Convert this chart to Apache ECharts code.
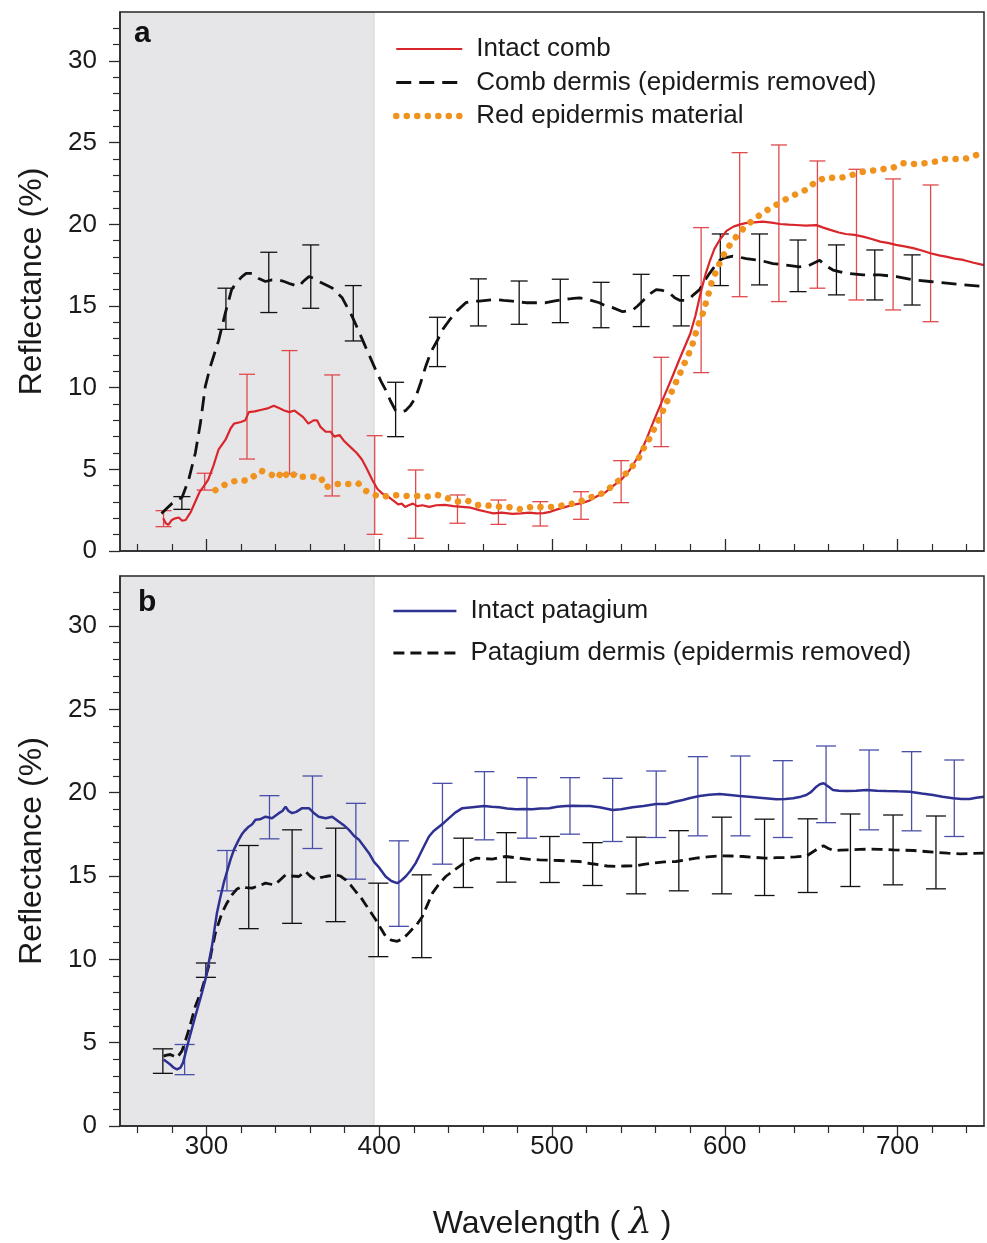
<!DOCTYPE html>
<html><head><meta charset="utf-8">
<script src="https://cdn.jsdelivr.net/npm/echarts@6/dist/echarts.min.js"></script>
<style>html,body{margin:0;padding:0;background:#fff}#c{width:987px;height:1243px}</style>
</head><body><div id="c"></div><script>
// ---------- tick labels ----------
const xMajorTicks = [300, 400, 500, 600, 700];
const xMinorTicks = [260, 280, 320, 340, 360, 380, 420, 440, 460, 480, 520, 540, 560, 580, 620, 640, 660, 680, 720, 740];
const yMajorTicks = [0, 5, 10, 15, 20, 25, 30];
const yMinorTicks = [1, 2, 3, 4, 6, 7, 8, 9, 11, 12, 13, 14, 16, 17, 18, 19, 21, 22, 23, 24, 26, 27, 28, 29, 31, 32];
const uvBand = [250, 397];

// ---------- panel a ----------
const intactComb = [[275,2.0],[276.5,1.7],[278,1.6],[280,1.9],[282,2.0],[284,2.05],[286,1.85],[288,1.9],[291,2.4],[293.5,3.0],[296,3.6],[298,3.9],[301,4.35],[304,5.2],[307,6.2],[311,6.8],[314,7.5],[316,7.8],[320,7.9],[322.5,8.0],[324.5,8.5],[328,8.55],[332,8.65],[336,8.75],[339,8.9],[342,8.75],[345,8.6],[348,8.5],[351,8.6],[353.5,8.4],[356,8.2],[359,7.8],[362,8.0],[364,8.0],[366,7.6],[369,7.3],[372,7.3],[374,7.0],[377,7.1],[380,6.7],[384,6.3],[387,6.0],[390,5.6],[393,5.0],[396,4.35],[399,3.8],[402,3.5],[405,3.35],[408,3.1],[411,2.85],[413,2.9],[415,2.7],[417,2.8],[419.5,2.9],[422,2.75],[425,2.8],[429,2.7],[433,2.8],[438,2.82],[443,2.75],[448,2.7],[453,2.65],[458,2.5],[462,2.4],[466,2.3],[471,2.35],[477,2.27],[482,2.3],[487,2.35],[491,2.3],[495,2.32],[499,2.4],[503,2.55],[508,2.7],[512,2.82],[518,2.95],[522,3.1],[526,3.35],[531,3.6],[535,3.95],[540,4.35],[545,4.96],[550,5.8],[554.5,6.8],[559,8.0],[564,9.25],[569,10.5],[574,11.8],[580,13.3],[583,14.4],[586,15.8],[589,17.0],[591.5,17.8],[594,18.5],[597,19.04],[601,19.6],[605,19.86],[609,20.0],[612,20.07],[617,20.12],[622,20.17],[627,20.1],[632,20.02],[637,19.98],[641,19.96],[647,19.92],[653,19.95],[657,19.8],[661,19.66],[666,19.5],[670,19.41],[675,19.35],[680,19.25],[685,19.1],[690,18.94],[695,18.85],[699,18.74],[704,18.65],[709,18.54],[714,18.4],[719,18.23],[724,18.1],[728,18.02],[733,17.9],[738,17.82],[744,17.65],[750,17.5]];
const intactCombErr = [[275.2,1.49,2.47],[299,3.73,4.76],[323.5,5.63,10.82],[348.1,4.72,12.27],[372.8,3.37,10.78],[397.4,1.02,7.06],[421.1,0.78,4.96],[445.3,1.70,3.43],[469,1.63,3.12],[493.2,1.53,3.02],[516.8,1.94,3.63],[540,2.96,5.53],[563.2,6.39,11.86],[586.3,10.92,19.80],[608.6,15.57,24.39],[631.3,15.27,24.86],[653.6,16.09,23.88],[676.2,15.37,23.37],[697.4,14.76,22.78],[719.1,14.04,22.41]];
const combDermis = [[274,2.3],[277,2.6],[280,2.9],[283,3.1],[286,3.3],[289.7,4.35],[293.6,6.0],[296.5,7.8],[299.4,10.1],[302.3,11.3],[305,12.2],[307.1,12.9],[311,14.6],[314.6,16.0],[317,16.4],[320.6,16.8],[323,17.0],[326.4,17.0],[330,16.7],[334.2,16.5],[338,16.6],[341.9,16.6],[345,16.5],[348.7,16.35],[353.5,16.2],[356,16.5],[359.3,16.8],[362,16.7],[365,16.5],[369,16.3],[372.8,16.1],[378.6,15.5],[384.4,14.35],[388,13.5],[392.1,12.5],[397.9,11.1],[401,10.4],[403.7,9.86],[406.5,9.2],[409.5,8.6],[412,8.5],[415.3,8.6],[418,8.9],[421.1,9.4],[424,10.3],[426.9,11.3],[430,12.2],[433.7,12.9],[437,13.6],[440.4,14.1],[445,14.7],[450.1,15.2],[454,15.3],[457.8,15.3],[462,15.35],[467.5,15.4],[472,15.35],[477.1,15.3],[484.9,15.2],[490,15.2],[496.5,15.2],[501,15.3],[506.1,15.4],[511,15.45],[515.8,15.5],[521,15.4],[527.4,15.2],[531,15.0],[535.1,14.9],[540.9,14.65],[546.7,14.75],[549.5,15.0],[552.5,15.3],[556,15.7],[560.3,16.0],[564,15.95],[568,15.8],[571,15.5],[573.8,15.35],[577,15.35],[579.6,15.45],[582,15.7],[585.4,16.0],[588,16.5],[591.2,17.0],[594,17.4],[597,17.8],[600,17.95],[604.7,18.05],[608,18.0],[612.4,17.9],[620.1,17.8],[627.9,17.6],[635.6,17.5],[643.3,17.4],[648,17.45],[651,17.6],[654.9,17.8],[658,17.5],[662.6,17.2],[670.4,17.0],[680,16.9],[689.7,16.9],[699.4,16.8],[709,16.6],[718.7,16.5],[728.4,16.4],[738,16.3],[750,16.2]];
const combDermisErr = [[285.8,2.55,3.33],[311.3,13.57,16.09],[336.1,14.6,18.29],[360.4,14.86,18.74],[385,12.86,16.25],[409.5,7.0,10.33],[433.7,11.29,14.31],[457.4,13.78,16.66],[481,13.88,16.53],[504.8,13.98,16.64],[528.4,13.67,16.45],[551.6,13.74,16.94],[574.8,13.78,16.86],[597.4,16.25,19.41],[620.1,16.29,19.41],[642.4,15.88,19.04],[664.6,15.68,18.74],[686.8,15.37,18.43],[708.4,15.06,18.13]];
const redEpidermis = [[305.2,3.73],[312,4.14],[318.7,4.35],[323.5,4.3],[328.4,4.65],[331.3,4.92],[335,4.8],[338,4.65],[340.9,4.45],[344.2,4.92],[347.7,4.45],[351.6,4.76],[355.4,4.55],[361.2,4.55],[366,4.55],[369,3.9],[375.7,4.1],[382.5,4.1],[387.9,4.14],[392.1,3.69],[397.5,3.43],[401.8,3.29],[406.6,3.43],[416.3,3.37],[422.1,3.37],[427.9,3.33],[433.7,3.43],[439.5,3.23],[445.3,3.02],[451.1,3.08],[456.8,2.82],[463.6,2.78],[469.4,2.71],[476.2,2.68],[482,2.55],[488.7,2.71],[495.5,2.68],[501.3,2.71],[508.1,2.82],[514.8,2.96],[520.6,3.23],[527.4,3.43],[533.2,3.84],[539,4.35],[544.8,4.96],[549.6,5.57],[553.1,6.29],[556.8,6.96],[559.9,7.65],[563.2,8.33],[566.1,9.04],[569,9.69],[571.9,10.37],[574.8,11.04],[577.7,11.74],[580.6,12.41],[582.5,13.08],[584.4,13.78],[587,14.45],[590.8,15.82],[592.5,16.49],[598,17.88],[601.8,18.57],[606.2,19.19],[611.4,19.82],[617.2,20.33],[623,20.78],[628.8,21.14],[635.2,21.53],[641.4,21.86],[647.8,22.15],[653,22.66],[659.3,22.88],[665.5,22.82],[671.9,22.96],[678.1,23.19],[684.5,23.27],[691,23.37],[697.4,23.47],[703.2,23.74],[709.4,23.7],[715.2,23.74],[721.6,23.84],[727.4,24.0],[733.8,24.0],[740,24.04],[750,24.4]];

// ---------- panel b ----------
const intactPatagium = [[275.2,3.99],[277,3.85],[279.1,3.69],[281,3.5],[283,3.40],[285,3.5],[286.5,3.8],[288,4.4],[289.9,5.19],[293.6,6.59],[297.4,7.99],[299.4,8.78],[301,9.6],[303.2,10.78],[306.1,12.78],[308,13.7],[310,14.57],[313.9,15.97],[316,16.6],[318.7,17.17],[320.5,17.5],[322,17.7],[324.5,17.96],[326.5,18.1],[328.4,18.37],[331,18.4],[334.2,18.56],[338,18.47],[341.9,18.77],[344,18.9],[345.8,19.16],[347.5,18.9],[349.6,18.77],[352,18.85],[355.4,19.07],[359.3,19.07],[362,18.8],[365,18.56],[369,18.47],[372.8,18.56],[376.7,18.26],[379.5,18.05],[382.5,17.77],[385.5,17.4],[388.3,17.17],[391,16.8],[394.1,16.37],[397,15.85],[400,15.5],[403.7,14.97],[407,14.7],[410.4,14.57],[413,14.75],[415.3,14.97],[418,15.3],[421.1,15.77],[423,16.17],[426,16.8],[428.8,17.37],[431.5,17.7],[434.6,17.96],[437.5,18.2],[440.4,18.47],[444,18.8],[448.1,19.07],[453.9,19.13],[460.7,19.2],[465,19.15],[469.4,19.13],[474,19.05],[479.1,19.0],[484,19.02],[488.7,19.0],[493,19.05],[498.4,19.07],[503,19.15],[508.1,19.2],[512,19.22],[517.7,19.2],[522,19.2],[527.4,19.13],[531,19.05],[535.1,18.96],[540,19.0],[546.7,19.13],[553,19.2],[560.3,19.32],[566.1,19.32],[571,19.45],[575.7,19.56],[580,19.68],[585.4,19.8],[591,19.88],[597,19.92],[603,19.86],[608.6,19.8],[614,19.76],[620.1,19.7],[625,19.65],[629.8,19.6],[635,19.62],[639.5,19.66],[644,19.76],[647.2,19.86],[650,20.05],[653,20.36],[655,20.5],[657.2,20.56],[659.5,20.4],[662.6,20.16],[666,20.12],[670.4,20.1],[676,20.12],[682,20.16],[688,20.12],[693.6,20.1],[700,20.08],[707,20.06],[714,19.95],[720.5,19.86],[726,19.76],[732.1,19.66],[737,19.62],[741.7,19.62],[745.5,19.7],[750,19.76]];
const intactPatagiumErr = [[287.4,3.08,4.89],[311.9,14.11,16.53],[336.5,17.23,19.82],[361.4,16.65,21.0],[386.5,14.81,19.36],[411.4,11.98,17.11],[436.6,15.71,20.56],[460.9,17.17,21.26],[485.5,17.27,20.9],[510.4,17.51,20.9],[535.1,17.07,20.86],[560.3,17.31,21.3],[584.4,17.41,22.16],[609.1,17.41,22.2],[633.6,17.31,21.92],[658.6,18.2,22.8],[683.5,17.77,22.56],[708.1,17.71,22.46],[732.8,17.37,21.96]];
const patagiumDermis = [[275.2,4.19],[277,4.25],[279.1,4.29],[281,4.2],[283,4.1],[285.8,4.49],[287.5,5.0],[289.9,5.79],[293.6,7.19],[297.4,8.19],[301.3,9.58],[303,10.5],[305.2,11.58],[309,12.78],[312,13.4],[314.8,13.87],[317.5,14.2],[320.6,14.37],[323,14.3],[326.4,14.27],[330,14.4],[334.2,14.57],[339,14.47],[342,14.7],[345.8,15.07],[349.5,15.0],[353.5,14.97],[357.4,15.27],[360,15.0],[363.2,14.77],[366,14.9],[369,14.97],[374.8,15.07],[377.5,15.0],[380.6,14.77],[383.5,14.45],[386.4,14.07],[389.5,13.7],[392.2,13.28],[395,12.85],[398,12.38],[401,11.85],[403.7,11.38],[407,11.15],[410.4,11.08],[413,11.2],[416.2,11.48],[419.2,11.82],[421.1,11.98],[425,12.57],[428,13.3],[430.8,13.97],[434.5,14.5],[438.5,14.97],[444,15.4],[449.1,15.77],[455.9,16.07],[460,16.05],[465.5,16.01],[469,16.1],[473.3,16.17],[481,16.07],[487,16.0],[492.6,15.97],[498,15.95],[504.2,15.93],[510,15.9],[515.8,15.87],[522,15.75],[527.4,15.67],[532,15.6],[537,15.57],[542,15.6],[548.6,15.61],[553,15.7],[558.3,15.77],[565,15.85],[571.8,15.87],[577,15.95],[583.4,16.07],[590,16.15],[598,16.21],[604,16.2],[610.6,16.17],[617,16.12],[623.2,16.07],[630,16.1],[635.8,16.11],[641,16.15],[647.4,16.21],[651.3,16.47],[654,16.65],[657.1,16.81],[660,16.65],[662.9,16.53],[667,16.55],[672.5,16.57],[678,16.6],[684.1,16.61],[690,16.6],[697.6,16.57],[703,16.55],[709.2,16.53],[716,16.47],[722.8,16.41],[729,16.37],[736.3,16.33],[743,16.35],[750,16.37]];
const patagiumDermisErr = [[274.8,3.16,4.63],[299.7,8.92,9.78],[324.5,11.84,16.83],[349.6,12.16,17.77],[374.8,12.26,17.87],[399.5,10.16,14.57],[424.6,10.1,15.07],[448.7,14.31,17.27],[473.6,14.63,17.6],[498.7,14.61,17.37],[523.5,14.43,17.0],[548.7,13.93,17.33],[573.4,14.11,17.72],[598.3,13.93,18.53],[623,13.83,18.41],[648,14.01,18.43],[672.7,14.37,18.72],[697.4,14.47,18.66],[722.2,14.23,18.6]];

// ---------- chart ----------
const FONT = 'Liberation Sans';
const AX = '#2b2b2b';
const RED = '#d9262b', RED_BAR = '#e04a4c', ORANGE = '#f0921e', BLUE = '#2e3192', BLUE_BAR = '#4a4fa8', BLACK = '#111111';

function xAxisPair(gridIndex, inside, withLabels) {
  const base = {type: 'value', gridIndex, min: 250, max: 750, position: 'bottom', splitLine: {show: false}};
  const major = Object.assign({}, base, {
    axisLine: {show: true, onZero: false, lineStyle: {color: AX, width: 1.5}},
    axisTick: {show: true, inside, length: 12, customValues: xMajorTicks, lineStyle: {color: AX, width: 1.3}},
    axisLabel: {show: withLabels, customValues: xMajorTicks, fontSize: 26, fontFamily: FONT, color: '#1a1a1a', margin: 8},
    z: 6
  });
  const minor = Object.assign({}, base, {
    axisLine: {show: false, onZero: false},
    axisTick: {show: true, inside, length: 7, customValues: xMinorTicks, lineStyle: {color: AX, width: 1.2}},
    axisLabel: {show: false},
    z: 6
  });
  return [major, minor];
}
function yAxisPair(gridIndex) {
  const base = {type: 'value', gridIndex, min: 0, max: 33, position: 'left', splitLine: {show: false}};
  const major = Object.assign({}, base, {
    name: 'Reflectance (%)', nameLocation: 'middle', nameGap: 72,
    nameTextStyle: {fontSize: 32, fontFamily: FONT, color: '#1a1a1a'},
    axisLine: {show: true, onZero: false, lineStyle: {color: AX, width: 1.5}},
    axisTick: {show: true, length: 11, customValues: yMajorTicks, lineStyle: {color: AX, width: 1.3}},
    axisLabel: {show: true, customValues: yMajorTicks, fontSize: 26, fontFamily: FONT, color: '#1a1a1a', margin: 23},
    z: 6
  });
  const minor = Object.assign({}, base, {
    axisLine: {show: false, onZero: false},
    axisTick: {show: true, length: 7, customValues: yMinorTicks, lineStyle: {color: AX, width: 1.2}},
    axisLabel: {show: false},
    z: 6
  });
  return [major, minor];
}

const xa = xAxisPair(0, true, false).concat(xAxisPair(1, false, true));
xa[2].name = '{t|Wavelength ( }{l|λ}{t| )}';
xa[2].nameLocation = 'middle';
xa[2].nameGap = 80;
xa[2].nameTextStyle = {rich: {
  t: {fontSize: 32, fontFamily: FONT, color: '#1a1a1a'},
  l: {fontSize: 36, fontFamily: 'DejaVu Serif', fontStyle: 'italic', color: '#1a1a1a'}
}};
const ya = yAxisPair(0).concat(yAxisPair(1));

function shade(xi, yi) {
  return {type: 'line', xAxisIndex: xi, yAxisIndex: yi, data: [], silent: true, z: 1,
    markArea: {silent: true, itemStyle: {color: '#e6e6e9', borderColor: '#d2d2d6', borderWidth: 1},
      data: [[{xAxis: uvBand[0]}, {xAxis: uvBand[1]}]]}};
}
function errBars(data, color, capW, xi, yi) {
  return {type: 'custom', xAxisIndex: xi, yAxisIndex: yi, data, z: 3, silent: true, clip: true,
    encode: {x: 0, y: [1, 2]},
    renderItem(params, api) {
      const x = api.value(0);
      const pLo = api.coord([x, api.value(1)]);
      const pHi = api.coord([x, api.value(2)]);
      const h = capW / 2;
      const st = {stroke: color, lineWidth: 1.3};
      return {type: 'group', children: [
        {type: 'line', shape: {x1: pLo[0], y1: pLo[1], x2: pHi[0], y2: pHi[1]}, style: st},
        {type: 'line', shape: {x1: pLo[0] - h, y1: pLo[1], x2: pLo[0] + h, y2: pLo[1]}, style: st},
        {type: 'line', shape: {x1: pHi[0] - h, y1: pHi[1], x2: pHi[0] + h, y2: pHi[1]}, style: st}
      ]};
    }};
}
function lineS(name, data, xi, yi, lineStyle, z) {
  return {name, type: 'line', xAxisIndex: xi, yAxisIndex: yi, data, symbol: 'none', showSymbol: false,
    clip: true, z: z || 4, lineStyle, itemStyle: {color: lineStyle.color}, emphasis: {disabled: true}};
}

const legendText = {fontSize: 26, fontFamily: FONT, color: '#1a1a1a', padding: [0, 0, 0, 9]};
const option = {
  animation: false,
  backgroundColor: '#ffffff',
  grid: [
    {left: 120, top: 12, width: 864, height: 539, show: true, borderColor: AX, borderWidth: 1.5, backgroundColor: 'transparent', z: 8},
    {left: 120, top: 576, width: 864, height: 551, show: true, borderColor: AX, borderWidth: 1.5, backgroundColor: 'transparent', z: 8}
  ],
  title: [
    {text: 'a', left: 134, top: 19, padding: 0, textStyle: {fontSize: 30, fontWeight: 'bold', fontFamily: FONT, color: '#111'}},
    {text: 'b', left: 138, top: 588, padding: 0, textStyle: {fontSize: 30, fontWeight: 'bold', fontFamily: FONT, color: '#111'}}
  ],
  legend: [
    {data: ['Intact comb', 'Comb dermis (epidermis removed)', 'Red epidermis material'],
     orient: 'vertical', left: 393, top: 36, itemWidth: 66, itemHeight: 14, itemGap: 7.5, padding: 0,
     selectedMode: false, textStyle: legendText, lineStyle: {width: 'inherit'}, itemStyle: {opacity: 0}},
    {data: ['Intact patagium', 'Patagium dermis (epidermis removed)'],
     orient: 'vertical', left: 392, top: 598, itemWidth: 63, itemHeight: 14, itemGap: 16, padding: 0,
     selectedMode: false, textStyle: legendText, lineStyle: {width: 'inherit'}, itemStyle: {opacity: 0}}
  ],
  xAxis: xa,
  yAxis: ya,
  series: [
    shade(0, 0),
    shade(2, 2),
    errBars(combDermisErr, BLACK, 17, 0, 0),
    errBars(intactCombErr, RED_BAR, 16, 0, 0),
    lineS('Intact comb', intactComb, 0, 0, {color: RED, width: 2.2}, 5),
    lineS('Comb dermis (epidermis removed)', combDermis, 0, 0, {color: BLACK, width: 2.8, type: [15, 8]}, 4),
    lineS('Red epidermis material', redEpidermis, 0, 0, {color: ORANGE, width: 6.5, type: [0.01, 10.5], cap: 'round'}, 6),
    errBars(patagiumDermisErr, BLACK, 20, 2, 2),
    errBars(intactPatagiumErr, BLUE_BAR, 20, 2, 2),
    lineS('Intact patagium', intactPatagium, 2, 2, {color: BLUE, width: 2.5}, 5),
    lineS('Patagium dermis (epidermis removed)', patagiumDermis, 2, 2, {color: BLACK, width: 2.8, type: [11, 6]}, 4)
  ]
};
const chart = echarts.init(document.getElementById('c'), null, {renderer: 'canvas'});
chart.setOption(option);
</script></body></html>
